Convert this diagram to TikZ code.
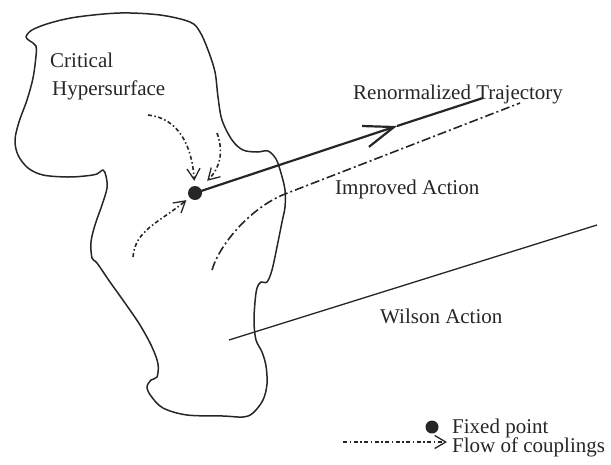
\documentclass[tikz,border=0pt]{standalone}
\usepackage{fontspec}
\setmainfont{Liberation Serif}
\usetikzlibrary{arrows.meta, calc}
\usepackage{xcolor}
\definecolor{ink}{HTML}{262626}
\tikzset{
    font=\fontsize{21}{28}\selectfont,
    >=Stealth,
    % Lines
    surface/.style={draw=ink, line width=1.5pt, line join=round},
    traj/.style={draw=ink, line width=2.2pt},
    wilson/.style={draw=ink, line width=1.3pt},
    improved/.style={draw=ink, line width=1.6pt, dash pattern=on 9pt off 3pt on 2pt off 3pt},
    flow/.style={draw=ink, line width=1.6pt, dash pattern=on 4pt off 2.5pt on 1.5pt off 2.5pt,
                 -{Straight Barb[length=11pt, width=13pt, line width=1.3pt]}},
    % Points & Labels
    fixed/.style={circle, fill=ink, inner sep=0pt, minimum size=14pt},
    lbl/.style={text=ink, inner sep=0pt, anchor=base west}
}

\begin{document}
\begin{tikzpicture}[x=1pt, y=-1pt]
\useasboundingbox (0,0) rectangle (611,464);

% critical hypersurface
\draw[surface] plot[smooth cycle, tension=0.55] coordinates {
    (26,37) (32,30) (50,23) (77,17) (120,13) (160,15) (190,22) (200,32)
    (208,50) (215,72) (218,97) (222,120) (232,140) (243,150) (257,152)
    (268,151) (276,159) (281,173) (285,190) (285,207) (282,222) (277,247)
    (272,270) (267,282) (261,282) (257,288) (255,302) (254,322) (256,340)
    (262,352) (266,366) (267,384) (263,400) (253,413) (243,417) (223,416)
    (187,415) (163,408) (151,396) (147,387) (151,380) (157,377) (158,364)
    (152,347) (140,325) (125,303) (110,282) (97,263) (92,258) (91,242)
    (95,225) (102,205) (107,188) (106,176) (103,170) (97,174) (85,176)
    (67,177) (43,175) (28,168) (18,155) (15,140) (19,122) (27,100)
    (33,78) (36,56) (36,46) (30,41)};

\node[fixed] (fp) at (195,193) {};
\coordinate (rtmid) at (397,126);
\coordinate (rtend) at (483,98);
\coordinate (f1) at (148,115);
\coordinate (f2) at (217,133);
\coordinate (f3) at (133,257);
\coordinate (ia1) at (212,270);
\coordinate (ia2) at (285,194);
\coordinate (ia3) at (520,103);
\coordinate (wa1) at (229,340);
\coordinate (wa2) at (597,225);

\node[lbl] (crit) at (50,67) {Critical};
\node[lbl] (hyper) at (52,95) {Hypersurface};
\node[lbl] (rt) at (353,99) {Renormalized Trajectory};
\node[lbl] (ia) at (335,194) {Improved Action};
\node[lbl] (wa) at (380,323) {Wilson Action};

% trajectories
\draw[traj, -{Straight Barb[length=30pt, width=22pt]}] (fp.center) -- (rtmid);
\draw[traj] (rtmid) -- (rtend);
\draw[improved] (ia1) .. controls (220,243) and (252,207) .. (ia2) -- (ia3);
\draw[wilson] (wa1) -- (wa2);

% flow of couplings
\draw[flow, shorten >=5pt] (f1) .. controls (178,118) and (192,145) .. (fp);
\draw[flow, shorten >=10pt] (f2) .. controls (224,152) and (220,168) .. (fp);
\draw[flow, shorten >=4pt] (f3) .. controls (135,230) and (160,222) .. (fp);

% legend
\node[fixed, minimum size=13pt] (lgdot) at (432,427) {};
\node[lbl] (lgfix) at (452,433) {Fixed point};
\coordinate (lf1) at (343,442);
\coordinate (lf2) at (447,442);
\draw[flow] (lf1) -- (lf2);
\node[lbl] (lgflow) at (452,452) {Flow of couplings};

\end{tikzpicture}
\end{document}
